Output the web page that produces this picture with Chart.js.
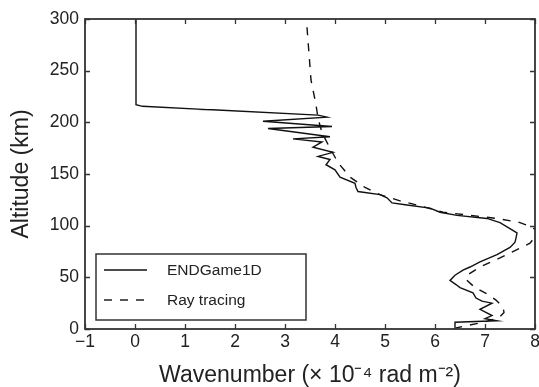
<!DOCTYPE html>
<html><head><meta charset="utf-8">
<script src="https://cdn.jsdelivr.net/npm/chart.js@4.4.0/dist/chart.umd.min.js"></script>
<style>html,body{margin:0;padding:0;background:#fff}</style>
</head><body>
<canvas id="c" width="539" height="387"></canvas>
<script>
// ---- data ----
const endgameX = [0.02,0.02,0.15,1.45,1.25,1.55,3.66,3.84,2.56,3.94,2.66,3.90,3.16,3.74,3.56,3.96,3.66,3.90,3.82,4.00,4.10,4.40,4.42,4.46,4.90,5.04,5.14,5.44,5.90,6.10,6.44,7.04,7.30,7.54,7.64,7.62,7.60,7.50,7.24,6.90,6.70,6.56,6.40,6.30,6.42,6.50,6.76,6.82,6.94,7.14,6.90,7.14,7.00,7.24,6.40,6.40];
const endgameY = [300,217,215.5,212.3,212.5,212.2,207,205,201,196,194,186,184,181,176,171,167,164,159,154,147,141,137,133,130,127,122,120,117,113,110,107,103,96,93,88,84,79,72,65,60,57,52,47,43,40,35,30,27,25,19,13,10,8,6.5,0];
const rayX = [3.44,3.52,3.62,3.66,3.74,3.90,4.06,4.30,4.60,4.90,5.30,5.64,6.16,6.70,7.24,7.70,7.96,8.06,7.90,7.44,6.90,6.64,6.62,6.80,7.04,7.22,7.36,7.38,7.28,7.00,6.42];
const rayY = [292,241,217,204,190,175,161,147,137,130,124,120,113,110,107,103,98,93,83,72,60,52,48,40,34,28,21,16,11,7,1];
const xTicks = [-1,0,1,2,3,4,5,6,7,8];
const yTicks = [0,50,100,150,200,250,300];
const seriesLabels = ['ENDGame1D','Ray tracing'];
const xTitle = 'Wavenumber (× 10⁻⁴ rad m⁻²)';
const yTitle = 'Altitude (km)';

const INK = '#222';
const AXIS = '#333';
const FONT = "'Liberation Sans', Arial, sans-serif";
const toPts = (xs, ys) => xs.map((x, i) => ({x, y: ys[i]}));

const framePlugin = {
  id: 'frame',
  afterDatasetsDraw(chart) {
    const {ctx, chartArea: a, scales} = chart;
    ctx.save();
    ctx.strokeStyle = AXIS;
    ctx.lineWidth = 1.8;
    ctx.strokeRect(a.left, a.top, a.right - a.left, a.bottom - a.top);
    ctx.lineWidth = 1.3;
    const L = 5;
    ctx.beginPath();
    xTicks.forEach(v => {
      const px = Math.round(scales.x.getPixelForValue(v)) + 0.5;
      ctx.moveTo(px, a.bottom); ctx.lineTo(px, a.bottom - L);
      ctx.moveTo(px, a.top); ctx.lineTo(px, a.top + L);
    });
    yTicks.forEach(v => {
      const py = Math.round(scales.y.getPixelForValue(v)) + 0.5;
      ctx.moveTo(a.left, py); ctx.lineTo(a.left + L, py);
      ctx.moveTo(a.right, py); ctx.lineTo(a.right - L, py);
    });
    ctx.stroke();
    ctx.restore();
  }
};

const legendPlugin = {
  id: 'boxLegend',
  afterDraw(chart) {
    const {ctx, chartArea: a} = chart;
    const bx = a.left + 11, bw = 210, bh = 66, by = a.bottom - 9 - bh;
    ctx.save();
    ctx.fillStyle = '#fff';
    ctx.fillRect(bx, by, bw, bh);
    ctx.strokeStyle = AXIS;
    ctx.lineWidth = 1.5;
    ctx.strokeRect(bx, by, bw, bh);
    chart.data.datasets.forEach((ds, i) => {
      const cy = by + 16 + i * 30;
      ctx.strokeStyle = ds.borderColor;
      ctx.lineWidth = ds.borderWidth;
      ctx.setLineDash(ds.borderDash || []);
      ctx.beginPath();
      ctx.moveTo(bx + 8, cy); ctx.lineTo(bx + 51, cy);
      ctx.stroke();
      ctx.setLineDash([]);
      ctx.fillStyle = INK;
      ctx.font = '15.5px ' + FONT;
      ctx.textBaseline = 'middle';
      ctx.textAlign = 'left';
      ctx.fillText(ds.label, bx + 71, cy + 1);
    });
    ctx.restore();
  }
};

new Chart(document.getElementById('c'), {
  type: 'scatter',
  data: {
    datasets: [
      {label: seriesLabels[0], data: toPts(endgameX, endgameY), showLine: true,
       borderColor: '#111', borderWidth: 1.4, pointRadius: 0, tension: 0, fill: false},
      {label: seriesLabels[1], data: toPts(rayX, rayY), showLine: true,
       borderColor: '#111', borderWidth: 1.4, borderDash: [8, 8], pointRadius: 0, tension: 0, fill: false}
    ]
  },
  options: {
    responsive: false,
    animation: false,
    events: [],
    layout: {padding: {top: 19, right: 4, left: 0, bottom: 0}},
    plugins: {legend: {display: false}, tooltip: {enabled: false}},
    scales: {
      x: {
        type: 'linear', min: -1, max: 8,
        afterBuildTicks: s => { s.ticks = xTicks.map(v => ({value: v})); },
        afterFit: s => { s.height = 58; s.paddingLeft = 0; s.paddingRight = 0; },
        ticks: {color: INK, font: {family: FONT, size: 17.5}, padding: 3, maxRotation: 0,
                callback: v => String(v).replace('-', '\u2212')},
        grid: {display: false, drawTicks: false},
        border: {display: false},
        title: {display: true, text: xTitle, color: INK, font: {family: FONT, size: 23, lineHeight: 1.0}, padding: 0}
      },
      y: {
        type: 'linear', min: 0, max: 300,
        afterBuildTicks: s => { s.ticks = yTicks.map(v => ({value: v})); },
        afterFit: s => { s.width = 85; s.paddingTop = 0; s.paddingBottom = 0; },
        ticks: {color: INK, font: {family: FONT, size: 17.5}, padding: 6},
        grid: {display: false, drawTicks: false},
        border: {display: false},
        title: {display: true, text: yTitle, color: INK, font: {family: FONT, size: 23, lineHeight: 1.0}, padding: {top: 10, bottom: 0}}
      }
    }
  },
  plugins: [framePlugin, legendPlugin]
});
</script>
</body></html>
